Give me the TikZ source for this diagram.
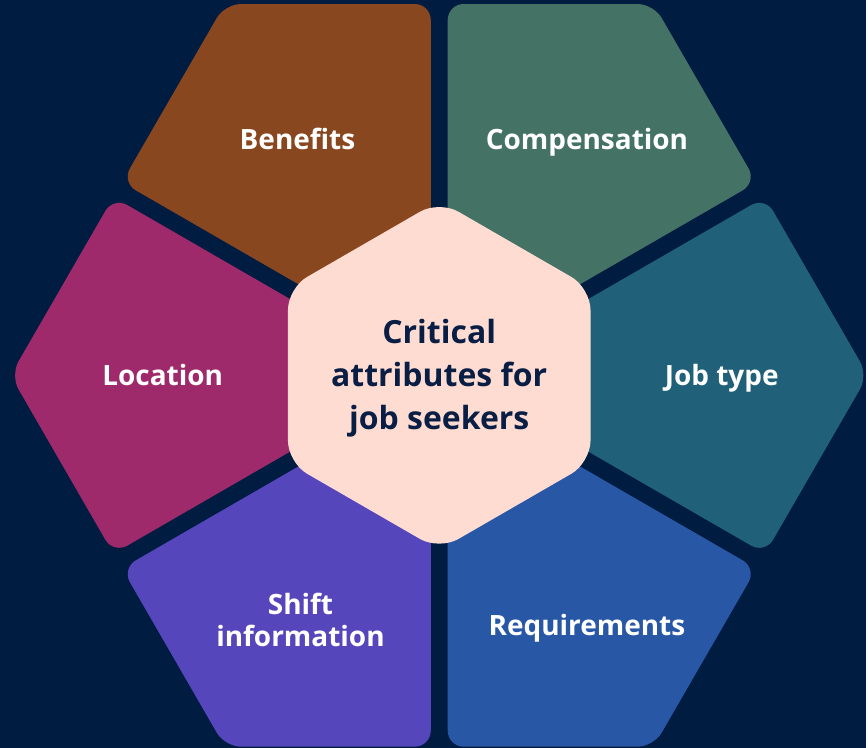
\documentclass[tikz,border=0pt]{standalone}
\usepackage{fontspec}
\setmainfont{Open Sans}
\usetikzlibrary{shapes.geometric}
\definecolor{navybg}{RGB}{1,28,65}
\definecolor{navytext}{RGB}{8,30,68}
\definecolor{benbrown}{RGB}{137,71,32}
\definecolor{compgreen}{RGB}{68,115,102}
\definecolor{jobteal}{RGB}{32,96,121}
\definecolor{reqblue}{RGB}{40,87,166}
\definecolor{shiftpurple}{RGB}{86,70,188}
\definecolor{locmagenta}{RGB}{158,42,107}
\definecolor{hubpink}{RGB}{255,220,210}

\begin{document}
\begin{tikzpicture}[x=0.5pt,y=0.5pt]
  \tikzstyle{petal}=[rounded corners=8pt]
  \tikzstyle{tag}=[text=white, font=\bfseries\fontsize{14}{16}\selectfont, align=center]
  \fill [navybg] (-440,-373) rectangle (428,376);
  % outer pieces
  \foreach \a/\c in {60/compgreen,120/benbrown,180/locmagenta,240/shiftpurple,300/reqblue,0/jobteal}
    \fill [petal, \c] (\a:17) -- (\a+28.69:372.1) -- (\a:429.5) -- (\a-28.69:372.1) -- cycle;
  % centre hexagon
  \node (hub) [regular polygon, regular polygon sides=6, shape border rotate=30,
    minimum size=175pt, inner sep=0pt, fill=hubpink, rounded corners=11pt] at (0,0) {};
  \node (hubtext) [text=navytext, font=\bfseries\fontsize{16}{21.5}\selectfont, align=center]
    at (0,-3) {Critical\\attributes for\\job seekers};
  % labels
  \node (benefits) [tag] at (-142,237) {Benefits};
  \node (comp) [tag] at (148,234) {Compensation};
  \node (location) [tag] at (-277,0) {Location};
  \node (jobtype) [tag] at (283,-3) {Job type};
  \node (shift) [tag] at (-139,-245) {Shift\\information};
  \node (req) [tag] at (148,-253) {Requirements};
\end{tikzpicture}
\end{document}
